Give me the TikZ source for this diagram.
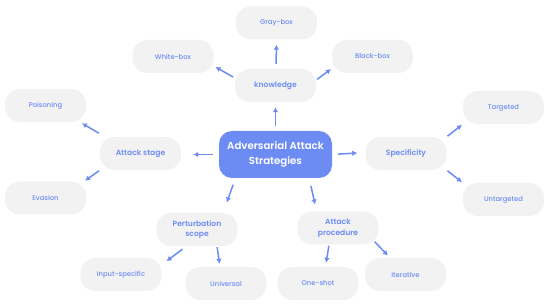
\documentclass[tikz,border=0pt]{standalone}
\usepackage{fontspec}
\setmainfont{Poppins}
\newfontfamily\popmed{Poppins Medium}
\newfontfamily\popsemi{Poppins SemiBold}
\usetikzlibrary{arrows.meta}
\definecolor{mblue}{HTML}{6D8CF3}
\definecolor{mgray}{HTML}{F2F2F3}
\begin{document}
\begin{tikzpicture}[x=1pt,y=-1pt,
  leaf/.style={fill=mgray, rounded corners=15pt, minimum width=81pt, minimum height=33pt,
    inner sep=0pt, text=mblue, font=\popmed\fontsize{6.8}{9}\selectfont, align=center},
  mid/.style={leaf, font=\popsemi\fontsize{7.6}{10.5}\selectfont},
  core/.style={fill=mblue, rounded corners=13pt, minimum width=113pt, minimum height=47pt,
    inner sep=0pt, text=white, font=\popsemi\fontsize{10.2}{15}\selectfont, align=center},
  arr/.style={draw=mblue, line width=1.5pt, -{Latex[length=5pt,width=5.5pt]}}]
\useasboundingbox (0,0) rectangle (550,307);
\fill[white] (0,0) rectangle (550,307);

\node[core] (c) at (275.5,154.5) {Adversarial Attack\\Strategies};
\node[mid] (know) at (275.5,85.5) {knowledge};
\node[leaf] (gb) at (276.5,23) {Gray-box};
\node[leaf] (wb) at (173,56.5) {White-box};
\node[leaf] (bb) at (372.5,56.5) {Black-box};
\node[mid] (as) at (140.5,153.5) {Attack stage};
\node[leaf] (pois) at (45.5,105.5) {Poisoning};
\node[leaf] (ev) at (45.5,198) {Evasion};
\node[mid] (spec) at (406,153.5) {Specificity};
\node[leaf] (tg) at (503.5,107.5) {Targeted};
\node[leaf] (ut) at (503.5,199.5) {Untargeted};
\node[mid] (pert) at (197,229.5) {Perturbation\\scope};
\node[leaf] (inp) at (121,274.5) {Input-specific};
\node[leaf] (uni) at (226,283.5) {Universal};
\node[mid] (proc) at (338,228) {Attack\\procedure};
\node[leaf] (os) at (318,283.5) {One-shot};
\node[leaf] (it) at (405.5,274.5) {Iterative};

\draw[arr, shorten <=5pt, shorten >=5pt] (c.north) -- (know.south);
\draw[arr, shorten <=5pt, shorten >=5pt] ([xshift=0.5pt]know.north) -- (gb.south);
\draw[arr, shorten <=2pt, shorten >=2pt] ([yshift=7.5pt]know.west) -- ([yshift=-9.5pt]wb.east);
\draw[arr, shorten <=1pt, shorten >=1pt] ([yshift=5.5pt]know.east) -- ([yshift=-12pt]bb.west);
\draw[arr, shorten <=6pt, shorten >=12pt] (c.west) -- ([yshift=-1pt]as.east);
\draw[arr, shorten <=1pt, shorten >=2pt] ([yshift=3pt]as.north west) -- ([xshift=-6pt]pois.south east);
\draw[arr, shorten <=1pt, shorten >=1pt] (as.south west) -- ([xshift=-2pt]ev.north east);
\draw[arr, shorten <=6pt, shorten >=8pt] (c.east) -- ([yshift=1pt]spec.west);
\draw[arr, shorten <=1pt, shorten >=1pt] (spec.north east) -- (tg.south west);
\draw[arr, shorten <=1pt, shorten >=1pt] (spec.south east) -- (ut.north west);
\draw[arr, shorten <=7pt, shorten >=11pt] ([xshift=-40pt]c.south) -- ([xshift=26pt]pert.north);
\draw[arr, shorten <=5pt, shorten >=6pt] ([xshift=-10.5pt]pert.south) -- ([yshift=9.8pt]inp.east);
\draw[arr, shorten <=1pt, shorten >=3pt] ([xshift=20pt]pert.south) -- ([xshift=-6pt]uni.north);
\draw[arr, shorten <=8pt, shorten >=7pt] ([xshift=33.7pt]c.south) -- ([xshift=-21.4pt]proc.north);
\draw[arr, shorten <=1pt, shorten >=4pt] ([xshift=-9pt]proc.south) -- ([xshift=7.5pt]os.north);
\draw[arr, shorten >=3pt] ([shift={(-4pt,3pt)}]proc.south east) -- ([xshift=-15.5pt]it.north);
\end{tikzpicture}
\end{document}
